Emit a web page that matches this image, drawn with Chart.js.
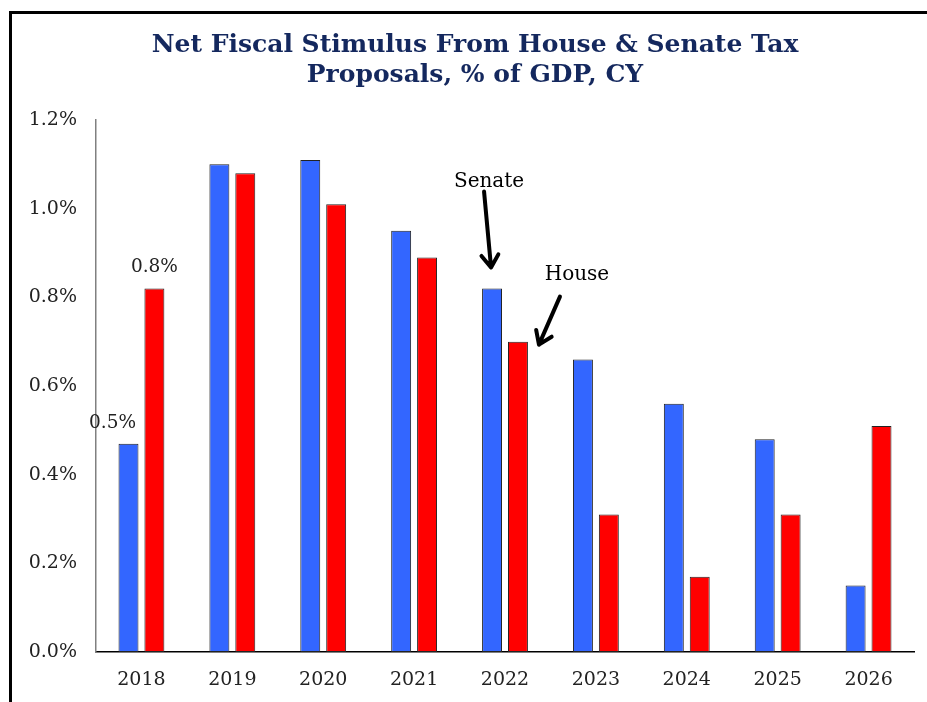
<!DOCTYPE html>
<html>
<head>
<meta charset="utf-8">
<script src="https://cdn.jsdelivr.net/npm/chart.js@4"></script>
<style>
  body { margin: 0; background: #fff; overflow: hidden; }
  #wrap { position: relative; width: 927px; height: 702px; }
  #frame { position: absolute; left: 9px; top: 11px; width: 1000px; height: 1000px; border-top: 3px solid #000; border-left: 3px solid #000; }
  canvas { position: absolute; left: 0; top: 0; }
</style>
</head>
<body>
<div id="wrap">
  <div id="frame"></div>
  <canvas id="chart" width="927" height="702"></canvas>
</div>
<script>
// years on the x axis
const years = ['2018', '2019', '2020', '2021', '2022', '2023', '2024', '2025', '2026'];
// % of GDP
const senate = [0.47, 1.10, 1.11, 0.95, 0.82, 0.66, 0.56, 0.48, 0.15];
const house = [0.82, 1.08, 1.01, 0.89, 0.70, 0.31, 0.17, 0.31, 0.51];
const yTicks = [0, 0.2, 0.4, 0.6, 0.8, 1.0, 1.2];
const titleLines = ['Net Fiscal Stimulus From House & Senate Tax', 'Proposals, % of GDP, CY'];

const serif = "'DejaVu Serif', Georgia, serif";

function arrow(ctx, x1, y1, x2, y2) {
    const a = Math.atan2(y2 - y1, x2 - x1);
    const h = 15;
    ctx.save();
    ctx.strokeStyle = '#000';
    ctx.lineWidth = 4;
    ctx.lineCap = 'round';
    ctx.lineJoin = 'round';
    ctx.beginPath();
    ctx.moveTo(x1, y1);
    ctx.lineTo(x2, y2);
    ctx.moveTo(x2 - h * Math.cos(a - 0.6), y2 - h * Math.sin(a - 0.6));
    ctx.lineTo(x2, y2);
    ctx.lineTo(x2 - h * Math.cos(a + 0.6), y2 - h * Math.sin(a + 0.6));
    ctx.stroke();
    ctx.restore();
}

// title, labels and the two arrows
const extras = {
    id: 'extras',
    afterDraw(chart) {
        const ctx = chart.ctx;
        ctx.save();
        ctx.fillStyle = '#14285e';
        ctx.font = "bold 25px " + serif;
        ctx.textAlign = 'center';
        ctx.textBaseline = 'middle';
        ctx.fillText(titleLines[0], 475, 45);
        ctx.fillText(titleLines[1], 475, 75);

        const s = chart.getDatasetMeta(0).data;
        const h = chart.getDatasetMeta(1).data;
        ctx.fillStyle = '#222';
        ctx.font = "18.5px " + serif;
        ctx.fillText(senate[0].toFixed(1) + '%', s[0].x - 16, s[0].y - 20);
        ctx.fillText(house[0].toFixed(1) + '%', h[0].x, h[0].y - 21);

        ctx.fillStyle = '#000';
        ctx.font = "20px " + serif;
        const sb = s[4], hb = h[4];
        ctx.fillText('Senate', sb.x - 3, sb.y - 107);
        arrow(ctx, sb.x - 8, sb.y - 97, sb.x - 1, sb.y - 21);
        ctx.fillText('House', hb.x + 59, hb.y - 67);
        arrow(ctx, hb.x + 42, hb.y - 45, hb.x + 21, hb.y + 3);
        ctx.restore();
    }
};

new Chart(document.getElementById('chart'), {
    type: 'bar',
    data: {
        labels: years,
        datasets: [
            { label: 'Senate', data: senate, backgroundColor: '#3366ff', borderColor: '#222', borderWidth: 1,
              borderSkipped: false, categoryPercentage: 0.57, barPercentage: 0.77 },
            { label: 'House', data: house, backgroundColor: '#ff0000', borderColor: '#222', borderWidth: 1,
              borderSkipped: false, categoryPercentage: 0.57, barPercentage: 0.77 }
        ]
    },
    options: {
        responsive: false,
        animation: false,
        layout: { padding: { top: 120, right: 13, left: 0, bottom: 0 } },
        plugins: { legend: { display: false }, tooltip: { enabled: false } },
        scales: {
            x: {
                grid: { display: false, drawTicks: false },
                border: { color: '#000', width: 1.5 },
                ticks: { color: '#222', font: { family: serif, size: 19 }, padding: 17 },
                afterFit(scale) { scale.height = 50; }
            },
            y: {
                min: 0, max: 1.2,
                afterBuildTicks(scale) { scale.ticks = yTicks.map(v => ({ value: v })); },
                grid: { display: false, drawTicks: false },
                border: { color: '#808080', width: 1.5 },
                ticks: { color: '#222', font: { family: serif, size: 19 }, padding: 19,
                         callback: v => v.toFixed(1) + '%' },
                afterFit(scale) { scale.width = 96; }
            }
        }
    },
    plugins: [extras]
});
</script>
</body>
</html>
